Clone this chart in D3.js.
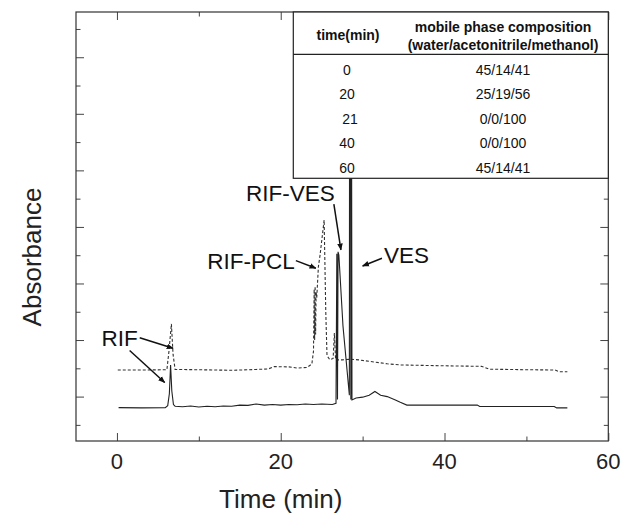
<!DOCTYPE html>
<html>
<head>
<meta charset="utf-8">
<script src="https://cdn.jsdelivr.net/npm/d3@7"></script>
<style>
  body { margin: 0; background: #fff; }
  svg { font-family: "Liberation Sans", Arial, sans-serif; }
</style>
</head>
<body>
<div id="chart-container"></div>
<script>
// chromatogram values (time in min, absorbance in arbitrary units)
var solidTime = [0.2, 3, 5.9, 6.2, 6.4, 6.55, 6.7, 6.9, 7.1, 8, 9, 10, 11, 12, 13, 14, 15, 16, 17, 18, 19, 20, 21, 22, 23, 24, 25, 26.3,
  26.75, 26.85, 26.93, 27.0, 27.1, 27.6, 28.3, 28.38, 28.42, 28.5, 28.56, 28.62, 28.7, 29.2, 30, 30.8, 31.5, 32.2, 33, 34, 34.6, 35.4,
  44, 44.3, 53.4, 53.7, 55];
var solidAbs = [0.61, 0.60, 0.61, 0.68, 1.1, 2.12, 1.2, 0.72, 0.66, 0.64, 0.67, 0.63, 0.66, 0.64, 0.67, 0.66, 0.70, 0.69, 0.74, 0.70, 0.72, 0.70, 0.72, 0.71, 0.74, 0.72, 0.74, 0.72,
  0.76, 6.05, 0.9, 6.12, 6.0, 3.5, 1.3, 1.05, 17, 17, 0.9, 17, 0.88, 0.95, 0.98, 1.05, 1.18, 1.05, 1.0, 0.88, 0.80, 0.70,
  0.70, 0.65, 0.65, 0.60, 0.60];

var dashTime = [0.1, 3, 6.1, 6.35, 6.65, 6.85, 7.1, 10, 14, 17, 18.5, 19.2, 21, 22, 23.2, 23.8, 24.0, 24.08, 24.14, 24.2, 24.26, 24.32,
  24.4, 24.6, 24.8, 25.3, 25.5, 25.65, 26.0, 26.4, 26.55, 26.7, 27.5, 28.5, 29.5, 31, 33, 34.6, 38, 42, 44.5, 45.5, 50, 53.5, 54, 55];
var dashAbs = [1.94, 1.94, 1.95, 2.6, 3.57, 2.5, 1.96, 1.95, 1.93, 1.96, 1.98, 2.06, 2.05, 2.01, 2.03, 2.15, 2.6, 4.8, 3.0, 4.9, 3.2, 4.7,
  4.5, 5.6, 6.0, 7.24, 4.0, 2.45, 2.3, 2.35, 3.25, 2.3, 2.3, 2.32, 2.3, 2.24, 2.16, 2.12, 2.1, 2.08, 2.07, 1.97, 1.95, 1.94, 1.88, 1.88];

var xTicks = [0, 10, 20, 30, 40, 50, 60];
var xLabels = [0, 20, 40, 60];
var yTicks = d3.range(0, 15);

// peak labels and their arrows, in data units
var peakNames = ["RIF", "RIF-PCL", "RIF-VES", "VES"];
var peakLabelPos = [[2.55, 2.8, "end"], [21.72, 5.5, "end"], [26.6, 7.9, "end"], [32.6, 5.72, "start"]];
var arrows = [
  [2.78, 3.08, 6.85, 2.71],
  [1.55, 2.63, 5.83, 1.50],
  [21.85, 5.81, 24.29, 5.54],
  [26.49, 7.81, 27.35, 6.19],
  [32.36, 5.89, 30.0, 5.62]
];

// gradient table
var tableHead = ["time(min)", "mobile phase composition", "(water/acetonitrile/methanol)"];
var tableTimes = ["0", "20", "21", "40", "60"];
var tableComp = ["45/14/41", "25/19/56", "0/0/100", "0/0/100", "45/14/41"];

var W = 623, H = 517;
var pLeft = 76, pRight = 608.3, pTop = 12, pBottom = 441;

var x = d3.scaleLinear().domain([-5, 60]).range([pLeft, pRight]);
var y = d3.scaleLinear().domain([-0.57, 14.6]).range([pBottom, pTop]);

var svg = d3.select("#chart-container")
  .append("svg")
  .attr("width", W)
  .attr("height", H);

var defs = svg.append("defs");
defs.append("clipPath").attr("id", "plotclip")
  .append("rect").attr("x", pLeft).attr("y", pTop).attr("width", pRight - pLeft).attr("height", pBottom - pTop);

defs.append("marker")
  .attr("id", "head")
  .attr("viewBox", "0 0 10 10")
  .attr("refX", 9).attr("refY", 5)
  .attr("markerWidth", 7).attr("markerHeight", 7)
  .attr("markerUnits", "userSpaceOnUse")
  .attr("orient", "auto")
  .append("path").attr("d", "M0,1 L10,5 L0,9 Z").attr("fill", "#111");

var line = d3.line().x(function(d) { return x(d[0]); }).y(function(d) { return y(d[1]); });

var plot = svg.append("g").attr("clip-path", "url(#plotclip)");

plot.append("path")
  .datum(dashTime.map(function(t, i) { return [t, dashAbs[i]]; }))
  .attr("d", line)
  .attr("fill", "none")
  .attr("stroke", "#333")
  .attr("stroke-width", 1.1)
  .attr("stroke-dasharray", "3,2");

plot.append("path")
  .datum(solidTime.map(function(t, i) { return [t, solidAbs[i]]; }))
  .attr("d", line)
  .attr("fill", "none")
  .attr("stroke", "#222")
  .attr("stroke-width", 1.1);

// axes, ticks pointing inward on all four sides
var tickLen = function(major) { return major ? 8 : 4.5; };

svg.append("g").attr("class", "x axis")
  .attr("transform", `translate(0,${pBottom})`)
  .call(d3.axisTop(x).tickValues(xTicks).tickFormat("").tickSizeOuter(0))
  .call(function(g) {
    g.select(".domain").remove();
    g.selectAll(".tick line").attr("y2", function(d) { return -tickLen(d % 20 === 0); }).attr("stroke", "#444");
  });

svg.append("g")
  .attr("transform", `translate(0,${pTop})`)
  .call(d3.axisBottom(x).tickValues(xTicks).tickFormat("").tickSizeOuter(0))
  .call(function(g) {
    g.select(".domain").remove();
    g.selectAll(".tick line").attr("y2", function(d) { return tickLen(d % 20 === 0); }).attr("stroke", "#444");
  });

svg.append("g").attr("class", "y axis")
  .attr("transform", `translate(${pLeft},0)`)
  .call(d3.axisRight(y).tickValues(yTicks).tickFormat("").tickSizeOuter(0))
  .call(function(g) {
    g.select(".domain").remove();
    g.selectAll(".tick line").attr("x2", function(d) { return tickLen(d % 2 === 1); }).attr("stroke", "#444");
  });

svg.append("g")
  .attr("transform", `translate(${pRight},0)`)
  .call(d3.axisLeft(y).tickValues(yTicks).tickFormat("").tickSizeOuter(0))
  .call(function(g) {
    g.select(".domain").remove();
    g.selectAll(".tick line").attr("x2", function(d) { return -tickLen(d % 2 === 1); }).attr("stroke", "#444");
  });

svg.append("rect")
  .attr("x", pLeft).attr("y", pTop)
  .attr("width", pRight - pLeft).attr("height", pBottom - pTop)
  .attr("fill", "none").attr("stroke", "#333").attr("stroke-width", 1.2);

svg.selectAll(".xlab")
  .data(xLabels)
  .enter().append("text")
  .attr("class", "xlab")
  .attr("x", function(d) { return x(d); })
  .attr("y", 469)
  .attr("text-anchor", "middle")
  .attr("font-size", 22)
  .attr("fill", "#222")
  .text(function(d) { return d; });

svg.append("text")
  .attr("x", x(20)).attr("y", 508)
  .attr("text-anchor", "middle")
  .attr("font-size", 26)
  .attr("fill", "#222")
  .text("Time (min)");

svg.append("text")
  .attr("transform", "translate(41,257) rotate(-90)")
  .attr("text-anchor", "middle")
  .attr("font-size", 26)
  .attr("fill", "#222")
  .text("Absorbance");

// peak labels
svg.selectAll(".peak")
  .data(peakNames)
  .enter().append("text")
  .attr("class", "peak")
  .attr("x", function(d, i) { return x(peakLabelPos[i][0]); })
  .attr("y", function(d, i) { return y(peakLabelPos[i][1]); })
  .attr("text-anchor", function(d, i) { return peakLabelPos[i][2]; })
  .attr("font-size", 22.5)
  .attr("fill", "#111")
  .text(function(d) { return d; });

svg.selectAll(".arrow")
  .data(arrows)
  .enter().append("line")
  .attr("class", "arrow")
  .attr("x1", function(d) { return x(d[0]); })
  .attr("y1", function(d) { return y(d[1]); })
  .attr("x2", function(d) { return x(d[2]); })
  .attr("y2", function(d) { return y(d[3]); })
  .attr("stroke", "#111")
  .attr("stroke-width", 1.5)
  .attr("marker-end", "url(#head)");

// table sits over the top right of the plot, covering the tall VES peak
var tx0 = 293.3, tx1 = pRight, ty0 = pTop, ty1 = 178.3, tdiv = 54.3;
var col1 = 347, col2 = 503;
var tbl = svg.append("g");

tbl.append("rect")
  .attr("x", tx0).attr("y", ty0)
  .attr("width", tx1 - tx0).attr("height", ty1 - ty0)
  .attr("fill", "#fff").attr("stroke", "#222").attr("stroke-width", 1.2);

tbl.append("line")
  .attr("x1", tx0).attr("x2", tx1)
  .attr("y1", tdiv).attr("y2", tdiv)
  .attr("stroke", "#222").attr("stroke-width", 1.2);

tbl.append("text")
  .attr("x", col1 + 1).attr("y", 40)
  .attr("text-anchor", "middle").attr("font-size", 14).attr("font-weight", "bold").attr("fill", "#111")
  .text(tableHead[0]);
tbl.append("text")
  .attr("x", col2).attr("y", 31.5)
  .attr("text-anchor", "middle").attr("font-size", 14).attr("font-weight", "bold").attr("fill", "#111")
  .text(tableHead[1]);
tbl.append("text")
  .attr("x", col2).attr("y", 49.5)
  .attr("text-anchor", "middle").attr("font-size", 14).attr("font-weight", "bold").attr("fill", "#111")
  .text(tableHead[2]);

var rowY = d3.scaleLinear().domain([0, 4]).range([75, 172.5]);

tbl.selectAll(".tt")
  .data(tableTimes)
  .enter().append("text")
  .attr("x", function(d) { return d === "21" ? col1 + 3 : col1; })
  .attr("y", function(d, i) { return rowY(i); })
  .attr("text-anchor", "middle").attr("font-size", 14).attr("fill", "#111")
  .text(function(d) { return d; });

tbl.selectAll(".tc")
  .data(tableComp)
  .enter().append("text")
  .attr("x", col2)
  .attr("y", function(d, i) { return rowY(i); })
  .attr("text-anchor", "middle").attr("font-size", 14).attr("fill", "#111")
  .text(function(d) { return d; });
</script>
</body>
</html>
